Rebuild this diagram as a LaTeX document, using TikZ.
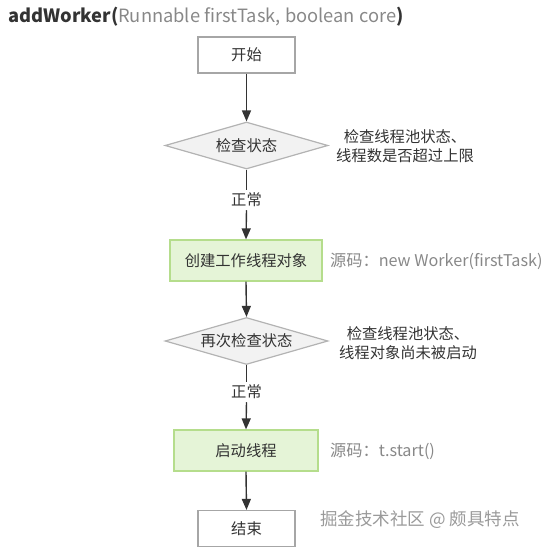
\documentclass[tikz,border=0pt]{standalone}
\usepackage{fontspec}
\setmainfont{Noto Sans CJK SC}
\usetikzlibrary{shapes.geometric,arrows.meta}
\definecolor{txt}{HTML}{333333}
\definecolor{note}{HTML}{888888}
\definecolor{boxline}{HTML}{A6A6A6}
\definecolor{dfill}{HTML}{F2F2F2}
\definecolor{dline}{HTML}{B3B3B3}
\definecolor{gfill}{HTML}{E5F4D7}
\definecolor{gline}{HTML}{B5DD8C}
\definecolor{wm}{HTML}{9A9A9A}
\begin{document}
\begin{tikzpicture}[x=1pt,y=-1pt,
  every node/.style={font=\fontsize{15.3}{19}\selectfont, text=txt},
  termbox/.style={draw=boxline, line width=1.2pt, fill=white, minimum width=97pt, minimum height=36pt, inner sep=0pt},
  procbox/.style={draw=gline, line width=1.2pt, fill=gfill, minimum height=41pt, inner sep=0pt},
  decbox/.style={diamond, draw=dline, line width=1.2pt, fill=dfill, minimum width=163pt, minimum height=47pt, inner sep=0pt, aspect=3.47},
  notetext/.style={align=center, text=txt, inner sep=0pt},
  srctext/.style={anchor=west, text=note, inner sep=0pt, font=\fontsize{16.2}{19}\selectfont},
  oklabel/.style={inner sep=3pt},
  flow/.style={draw=txt, line width=1.4pt},
  arrowflow/.style={flow, -{Triangle[length=11pt,width=9pt]}}
]
\useasboundingbox (0,0) rectangle (547,553);

\node[anchor=west, inner sep=0pt, font=\fontsize{18.3}{21}\selectfont] (title) at (8,17)
  {\textbf{addWorker(}\textcolor{note}{Runnable firstTask, boolean core}\textbf{)}};

\node[termbox] (start) at (246.5,55) {开始};
\node[decbox] (d1) at (246.5,145.5) {检查状态};
\node[notetext] (n1) at (405,146) {检查线程池状态、\\线程数是否超过上限};
\node[oklabel] (ok1) at (246.5,200) {正常};
\node[procbox, minimum width=152pt] (g1) at (246,260.5) {创建工作线程对象};
\node[srctext] (s1) at (330,261) {源码：new Worker(firstTask)};
\node[decbox] (d2) at (246.5,341) {再次检查状态};
\node[notetext] (n2) at (408,343) {检查线程池状态、\\线程对象尚未被启动};
\node[oklabel] (ok2) at (246.5,392) {正常};
\node[procbox, minimum width=144pt] (g2) at (246,450.5) {启动线程};
\node[srctext] (s2) at (330,451) {源码：t.start()};
\node[termbox] (end) at (246.5,528.5) {结束};
\node[anchor=west, inner sep=0pt, text=wm, font=\fontsize{17.5}{20}\selectfont] (wmark) at (320,520) {掘金技术社区 @ 颇具特点};

\draw[arrowflow] (start.south) -- (d1.north);
\draw[flow] (d1.south) -- (ok1.north);
\draw[arrowflow] (ok1.south) -- (g1.north);
\draw[arrowflow] (g1.south) -- (d2.north);
\draw[flow] (d2.south) -- (ok2.north);
\draw[arrowflow] (ok2.south) -- (g2.north);
\draw[arrowflow] (g2.south) -- (end.north);
\end{tikzpicture}
\end{document}
